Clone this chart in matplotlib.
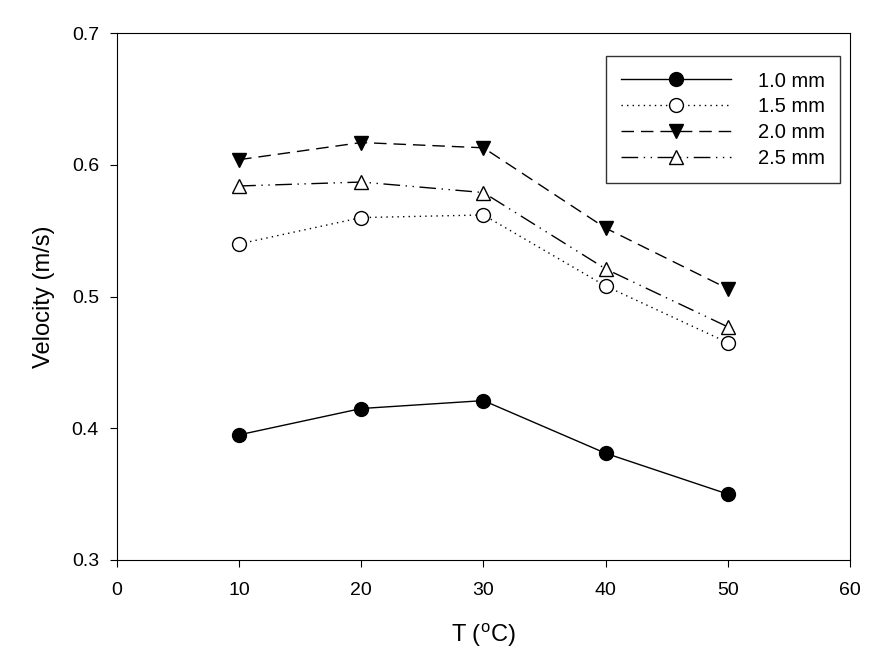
import matplotlib.pyplot as plt

plt.rcParams['font.family'] = ['Liberation Sans', 'DejaVu Sans']

temps = [10, 20, 30, 40, 50]
v_10 = [0.395, 0.415, 0.421, 0.381, 0.350]
v_15 = [0.540, 0.560, 0.562, 0.508, 0.465]
v_20 = [0.604, 0.617, 0.613, 0.552, 0.506]
v_25 = [0.584, 0.587, 0.579, 0.521, 0.477]
labels = ['1.0 mm', '1.5 mm', '2.0 mm', '2.5 mm']

fig = plt.figure(figsize=(8.89, 6.65), dpi=100)
ax = fig.add_axes([0.1316, 0.158, 0.8245, 0.792])

ax.plot(temps, v_10, color='black', lw=1, marker='o', ms=10, mfc='black', label=labels[0])
ax.plot(temps, v_15, color='black', lw=1, ls=(0, (1, 3)), marker='o', ms=10, mfc='white', label=labels[1])
ax.plot(temps, v_20, color='black', lw=1, ls=(0, (9, 5)), marker='v', ms=10, mfc='black', label=labels[2])
ax.plot(temps, v_25, color='black', lw=1, ls=(0, (12, 4, 1, 4, 1, 4)), marker='^', ms=10,
        mfc='white', label=labels[3])

ax.set_xlim(0, 60)
ax.set_ylim(0.3, 0.7)
ax.set_xticks([0, 10, 20, 30, 40, 50, 60])
ax.set_yticks([0.3, 0.4, 0.5, 0.6, 0.7])
ax.tick_params(direction='out', length=5, labelsize=14, top=False, right=False)
ax.tick_params(axis='x', pad=11)
ax.tick_params(axis='y', pad=8)
ax.set_xlabel('T ($^\\mathregular{o}$C)', fontsize=17, labelpad=16)
ax.set_ylabel('Velocity (m/s)', fontsize=17, labelpad=12)

ax.legend(loc='upper right', bbox_to_anchor=(0.986, 0.956), fontsize=14.5, frameon=True,
          fancybox=False, edgecolor='black', handlelength=5.5, borderpad=0.75,
          labelspacing=0.34, handletextpad=1.3, borderaxespad=0)

plt.savefig('out.png', dpi=100)
